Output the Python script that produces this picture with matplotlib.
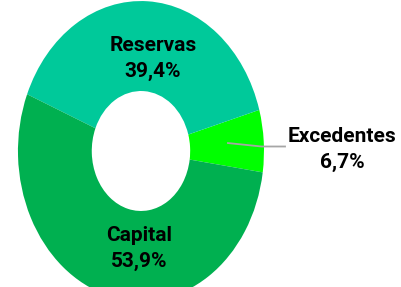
import matplotlib
matplotlib.use("Agg")
import matplotlib.pyplot as plt
from matplotlib import font_manager

# data, counterclockwise from the right side
labels = ["Excedentes", "Reservas", "Capital"]
shares = [6.7, 39.4, 53.9]
colors = ["#00FF00", "#00C99A", "#00B050"]

names = set(f.name for f in font_manager.fontManager.ttflist)
if 'Liberation Sans Narrow' in names:
    family, size = 'Liberation Sans Narrow', 16
else:
    family, size = 'Roboto', 15
plt.rcParams['font.family'] = [family, 'DejaVu Sans']

fig = plt.figure(figsize=(4.02, 2.87), dpi=100)
ax = fig.add_axes([0, 0, 1, 1])
ax.pie(shares, colors=colors, startangle=-8.2, counterclock=True,
       wedgeprops=dict(width=0.6, edgecolor='none'))
ax.set_aspect('auto')
ax.set_xlim(-1.146, 2.122)
ax.set_ylim(-0.907, 1.007)
ax.axis('off')

def pct(v):
    return ("%.1f%%" % v).replace(".", ",")

txt = dict(ha='center', va='center', fontsize=size, fontweight='bold',
           color='black', linespacing=1.45)
ax.text(0.098, 0.617, labels[1] + "\n" + pct(shares[1]), **txt)
ax.text(-0.016, -0.653, labels[2] + "\n" + pct(shares[2]), **txt)
ax.text(1.634, 0.01, labels[0] + "\n" + pct(shares[0]), **txt)
ax.plot([0.707, 0.98, 1.171], [0.053, 0.03, 0.03], color='#A6A6A6', lw=1.3)

fig.savefig("out.png", dpi=100)
